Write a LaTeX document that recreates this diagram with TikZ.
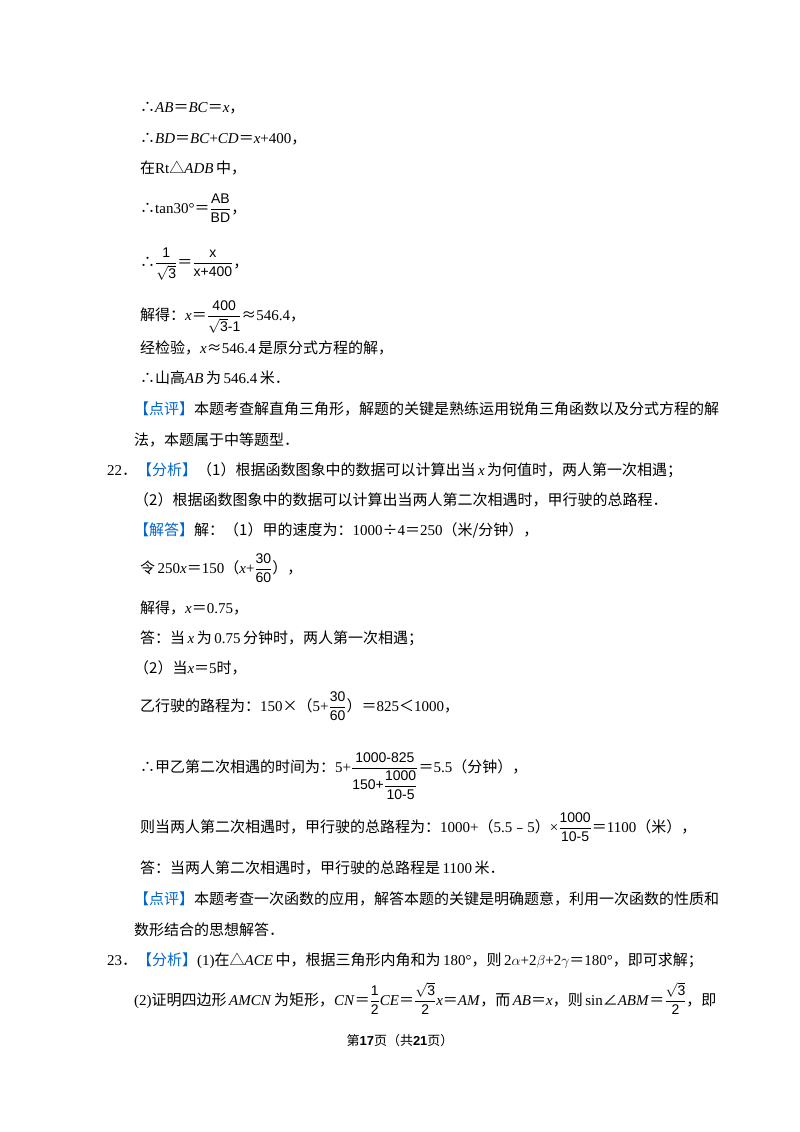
\documentclass[tikz,border=0pt]{standalone}
\usepackage{amsmath}
\usepackage{fontspec}
\setmainfont{Liberation Serif}
\setsansfont{Liberation Sans}
\newfontfamily\cjk{Noto Sans CJK SC}
\newcommand{\zh}[1]{{\cjk #1}}
\newcommand{\fs}{\sffamily\fontsize{14}{16}\selectfont}
\newcommand{\fr}[2]{$\dfrac{\text{\fs #1}}{\text{\fs #2}}$}
\newcommand{\sq}{\sqrt{\text{\fs 3}}}
\newcommand{\xx}{\textit{x}}
\definecolor{tagblue}{RGB}{0,102,204}
\newcommand{\tg}[1]{\textcolor{tagblue}{\zh{【#1】}}}
\begin{document}
\begin{tikzpicture}[x=1pt,y=-1pt,
  ln/.style={anchor=base west,inner sep=0pt,font=\fontsize{15}{18}\selectfont}]
\useasboundingbox (0,0) rectangle (800,1132);
\fill[white] (0,0) rectangle (800,1132);
\node[ln] (l1) at (140,112) {\zh{∴}\textit{AB}\zh{＝}\textit{BC}\zh{＝}\xx\zh{，}};
\node[ln] (l2) at (140,143) {\zh{∴}\textit{BD}\zh{＝}\textit{BC}+\textit{CD}\zh{＝}\xx+400\zh{，}};
\node[ln] (l3) at (140,173) {\zh{在}Rt\zh{△}\textit{ADB}\,\zh{中，}};
\node[ln] (l4) at (140,213) {\zh{∴}tan30°\zh{＝}\fr{AB}{BD}\zh{，}};
\node[ln] (l5) at (140,267) {\zh{∴}$\dfrac{\text{\fs 1}}{\sq}$\zh{＝}\fr{x}{x+400}\zh{，}};
\node[ln] (l6) at (140,320) {\zh{解得：}\xx\zh{＝}$\dfrac{\text{\fs 400}}{\sq\text{\fs -1}}$\zh{≈}546.4\zh{，}};
\node[ln] (l7) at (140,353) {\zh{经检验，}\xx\zh{≈}546.4\,\zh{是原分式方程的解，}};
\node[ln] (l8) at (140,383) {\zh{∴山高}\textit{AB}\,\zh{为}\,546.4\,\zh{米．}};
\node[ln] (l9) at (134,414) {\tg{点评}\zh{本题考查解直角三角形，解题的关键是熟练运用锐角三角函数以及分式方程的解}};
\node[ln] (l10) at (134,445) {\zh{法，本题属于中等题型．}};
\node[ln] (l11) at (107,475) {22\zh{．}\tg{分析}\zh{（1）根据函数图象中的数据可以计算出当}\,\xx\,\zh{为何值时，两人第一次相遇；}};
\node[ln] (l12) at (134,505) {\zh{（2）根据函数图象中的数据可以计算出当两人第二次相遇时，甲行驶的总路程．}};
\node[ln] (l13) at (134,535) {\tg{解答}\zh{解：（1）甲的速度为：}1000\zh{÷}4\zh{＝}250\zh{（米/分钟），}};
\node[ln] (l14) at (140,573) {\zh{令}\,250\xx\zh{＝}150\zh{（}\xx+\fr{30}{60}\zh{），}};
\node[ln] (l15) at (140,613) {\zh{解得，}\xx\zh{＝}0.75\zh{，}};
\node[ln] (l16) at (140,643) {\zh{答：当}\,\xx\,\zh{为}\,0.75\,\zh{分钟时，两人第一次相遇；}};
\node[ln] (l17) at (134,673) {\zh{（2）当}\xx\zh{＝}5\zh{时，}};
\node[ln] (l18) at (140,711) {\zh{乙行驶的路程为：}150\zh{×（}5+\fr{30}{60}\zh{）＝}825\zh{＜}1000\zh{，}};
\node[ln] (l19) at (140,772) {\zh{∴甲乙第二次相遇的时间为：}5+$\dfrac{\text{\fs 1000-825}}{\text{\fs 150+}\dfrac{\text{\fs 1000}}{\text{\fs 10-5}}}$\zh{＝}5.5\zh{（分钟），}};
\node[ln] (l20) at (140,832) {\zh{则当两人第二次相遇时，甲行驶的总路程为：}1000+\zh{（}5.5\zh{﹣}5\zh{）}×\fr{1000}{10-5}\zh{＝}1100\zh{（米），}};
\node[ln] (l21) at (140,873) {\zh{答：当两人第二次相遇时，甲行驶的总路程是}\,1100\,\zh{米．}};
\node[ln] (l22) at (134,904) {\tg{点评}\zh{本题考查一次函数的应用，解答本题的关键是明确题意，利用一次函数的性质和}};
\node[ln] (l23) at (134,935) {\zh{数形结合的思想解答．}};
\node[ln] (l24) at (107,965) {23\zh{．}\tg{分析}(1)\zh{在△}\textit{ACE}\,\zh{中，根据三角形内角和为}\,180°\zh{，则}\,2$\alpha$+2$\beta$+2$\gamma$\zh{＝}180°\zh{，即可求解；}};
\node[ln] (l25) at (134,1005) {(2)\zh{证明四边形}\,\textit{AMCN}\,\zh{为矩形，}\textit{CN}\zh{＝}\fr{1}{2}\textit{CE}\zh{＝}$\dfrac{\sq}{\text{\fs 2}}$\xx\zh{＝}\textit{AM}\zh{，而}\,\textit{AB}\zh{＝}\xx\zh{，则}\,sin\zh{∠}\textit{ABM}\zh{＝}$\dfrac{\sq}{\text{\fs 2}}$\zh{，即}};
\node[anchor=base,inner sep=0pt,font=\fontsize{13}{16}\selectfont] (ft) at (400,1045) {\zh{第}\textbf{\sffamily 17}\zh{页（共}\textbf{\sffamily 21}\zh{页）}};
\end{tikzpicture}
\end{document}
